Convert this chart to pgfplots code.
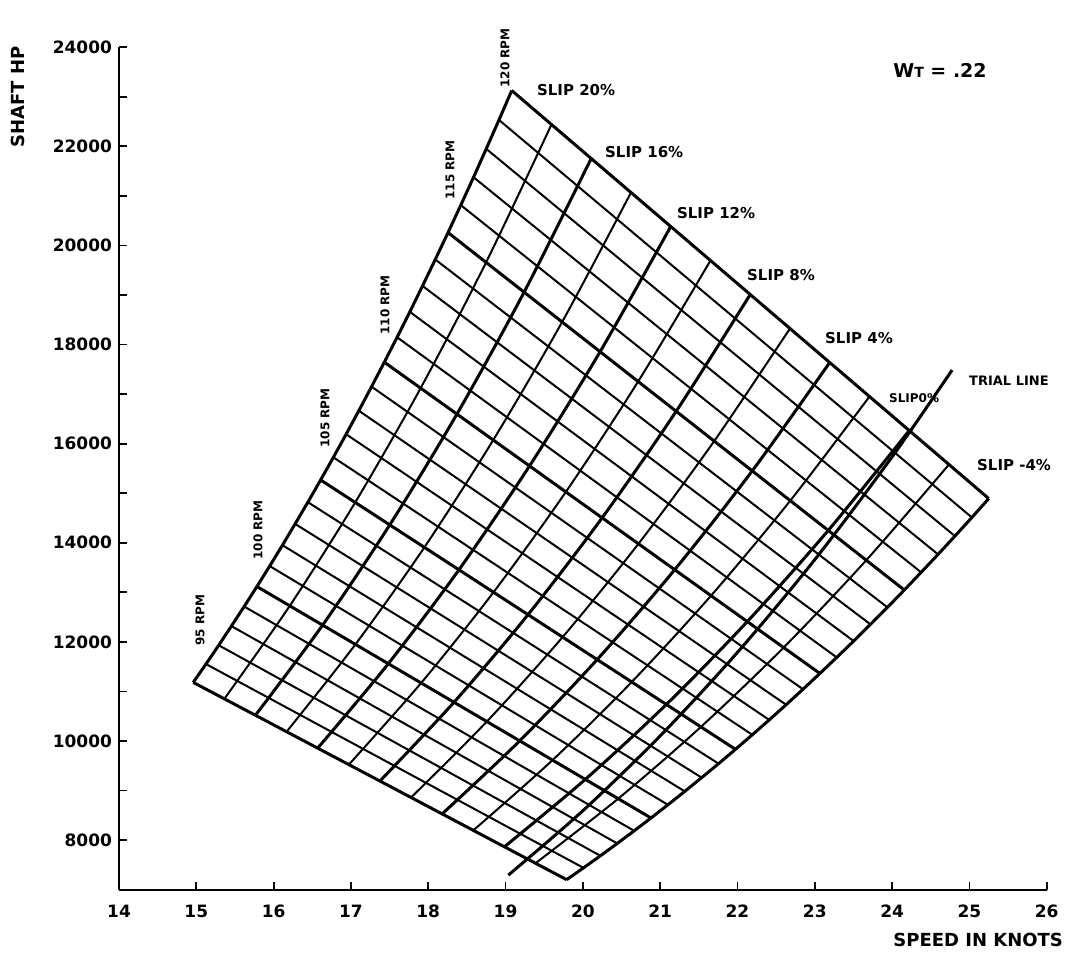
\documentclass[border=0pt]{standalone}
\usepackage{fontspec}
\setmainfont{DejaVu Sans}
\usepackage{pgfplots}
\pgfplotsset{compat=1.18}

% Propeller chart: shaft horsepower against speed, with lines of constant
% revolutions (95--120 RPM) and constant apparent slip (20% to -4%).
\pgfplotsset{
  heavy/.style={black, line width=1.5pt, no marks},
  light/.style={black, line width=1.0pt, no marks},
}

\begin{document}
\begin{tikzpicture}
\begin{axis}[
  scale only axis, width=463.8pt, height=421.2pt,
  xmin=14, xmax=26, ymin=7000, ymax=24000,
  axis x line=bottom, axis y line=left,
  axis line style={-, line width=1pt},
  xtick={14,...,26},
  ytick={8000,10000,...,24000},
  minor ytick={9000,11000,...,23000},
  scaled y ticks=false,
  tick align=inside,
  major tick length=4pt, minor tick length=4pt,
  tick style={black, line width=0.9pt},
  ticklabel style={font=\bfseries\fontsize{8.5}{10}\selectfont},
  xticklabel style={yshift=-4pt},
  yticklabel style={/pgf/number format/fixed},
  /pgf/number format/assume math mode=true,
  /pgf/number format/1000 sep={},
  clip=false,
]

% ---- lines of constant revolutions (slip 20% end to slip -4% end)
\addplot[heavy] coordinates {(14.960,11183) (19.790,7202)};   % 95
\addplot[light] coordinates {(15.125,11553) (20.008,7440)};
\addplot[light] coordinates {(15.290,11932) (20.227,7684)};
\addplot[light] coordinates {(15.454,12319) (20.445,7933)};
\addplot[light] coordinates {(15.619,12714) (20.664,8188)};
\addplot[heavy] coordinates {(15.784,13117) (20.882,8447)};   % 100
\addplot[light] coordinates {(15.949,13530) (21.100,8713)};
\addplot[light] coordinates {(16.114,13951) (21.319,8984)};
\addplot[light] coordinates {(16.278,14381) (21.537,9261)};
\addplot[light] coordinates {(16.443,14819) (21.756,9543)};
\addplot[heavy] coordinates {(16.608,15267) (21.974,9832)};   % 105
\addplot[light] coordinates {(16.773,15724) (22.192,10126)};
\addplot[light] coordinates {(16.938,16190) (22.411,10426)};
\addplot[light] coordinates {(17.102,16665) (22.629,10732)};
\addplot[light] coordinates {(17.267,17150) (22.848,11045)};
\addplot[heavy] coordinates {(17.432,17644) (23.066,11363)};  % 110
\addplot[light] coordinates {(17.597,18147) (23.284,11687)};
\addplot[light] coordinates {(17.762,18660) (23.503,12017)};
\addplot[light] coordinates {(17.926,19183) (23.721,12354)};
\addplot[light] coordinates {(18.091,19716) (23.940,12697)};
\addplot[heavy] coordinates {(18.256,20259) (24.158,13047)};  % 115
\addplot[light] coordinates {(18.421,20813) (24.376,13404)};
\addplot[light] coordinates {(18.586,21376) (24.595,13766)};
\addplot[light] coordinates {(18.750,21949) (24.813,14135)};
\addplot[light] coordinates {(18.915,22532) (25.032,14511)};
\addplot[heavy] coordinates {(19.080,23126) (25.250,14893)};  % 120

% ---- lines of constant slip
% slip 20%
\addplot[heavy] coordinates {
 (14.960,11183) (15.125,11553) (15.290,11932) (15.454,12319) (15.619,12714)
 (15.784,13117) (15.949,13530) (16.114,13951) (16.278,14381) (16.443,14819)
 (16.608,15267) (16.773,15724) (16.938,16190) (17.102,16665) (17.267,17150)
 (17.432,17644) (17.597,18147) (17.762,18660) (17.926,19183) (18.091,19716)
 (18.256,20259) (18.421,20813) (18.586,21376) (18.750,21949) (18.915,22532)
 (19.080,23126)};
% slip 18%
\addplot[light, smooth] coordinates {(15.363,10851) (16.209,12728) (17.055,14814) (17.902,17121) (18.748,19658) (19.594,22440)};
% slip 16%
\addplot[heavy, smooth] coordinates {(15.765,10520) (16.634,12339) (17.502,14361) (18.371,16597) (19.240,19057) (20.108,21754)};
% slip 14%
\addplot[light, smooth] coordinates {(16.168,10188) (17.058,11950) (17.950,13908) (18.841,16074) (19.732,18456) (20.623,21068)};
% slip 12%
\addplot[heavy, smooth] coordinates {(16.570,9856) (17.483,11560) (18.397,13455) (19.310,15550) (20.223,17855) (21.137,20382)};
% slip 10%
\addplot[light, smooth] coordinates {(16.973,9524) (17.908,11171) (18.844,13002) (19.780,15027) (20.715,17254) (21.651,19696)};
% slip 8%
\addplot[heavy, smooth] coordinates {(17.375,9192) (18.333,10782) (19.291,12550) (20.249,14503) (21.207,16653) (22.165,19010)};
% slip 6%
\addplot[light, smooth] coordinates {(17.778,8861) (18.758,10393) (19.738,12097) (20.719,13980) (21.699,16052) (22.679,18324)};
% slip 4%
\addplot[heavy, smooth] coordinates {(18.180,8529) (19.183,10004) (20.185,11644) (21.188,13457) (22.191,15451) (23.193,17637)};
% slip 2%
\addplot[light, smooth] coordinates {(18.583,8197) (19.608,9615) (20.632,11191) (21.658,12933) (22.683,14850) (23.708,16951)};
% slip 0%
\addplot[heavy, smooth] coordinates {(18.985,7865) (20.032,9226) (21.080,10738) (22.127,12410) (23.174,14249) (24.222,16265)};
% slip -2%
\addplot[light, smooth] coordinates {(19.388,7534) (20.457,8837) (21.527,10285) (22.597,11886) (23.666,13648) (24.736,15579)};
% slip -4%
\addplot[heavy] coordinates {
 (19.790,7202) (20.008,7440) (20.227,7684) (20.445,7933) (20.664,8188)
 (20.882,8447) (21.100,8713) (21.319,8984) (21.537,9261) (21.756,9543)
 (21.974,9832) (22.192,10126) (22.411,10426) (22.629,10732) (22.848,11045)
 (23.066,11363) (23.284,11687) (23.503,12017) (23.721,12354) (23.940,12697)
 (24.158,13047) (24.376,13404) (24.595,13766) (24.813,14135) (25.032,14511)
 (25.250,14893)};

% ---- trial line
\addplot[heavy, smooth] coordinates {(19.036,7294) (20,8593) (21,10103) (22,11789) (23,13660) (24,15734) (24.776,17485)};

% ---- labels
\begin{scope}[font=\bfseries\fontsize{7.5}{8}\selectfont]
\node[anchor=west] at (axis cs:19.317,23135) {SLIP 20\%};
\node[anchor=west] at (axis cs:20.197,21884) {SLIP 16\%};
\node[anchor=west] at (axis cs:21.128,20653) {SLIP 12\%};
\node[anchor=west] at (axis cs:22.034,19402) {SLIP 8\%};
\node[anchor=west] at (axis cs:23.043,18130) {SLIP 4\%};
\node[anchor=west, font=\bfseries\fontsize{6}{6}\selectfont] at (axis cs:23.870,16920) {SLIP0\%};
\node[anchor=west] at (axis cs:25.009,15568) {SLIP -4\%};
\node[anchor=west, font=\bfseries\fontsize{6.5}{7}\selectfont] at (axis cs:24.906,17263) {TRIAL LINE};
\end{scope}
\begin{scope}[font=\bfseries\fontsize{6}{6}\selectfont]
\node[rotate=90] at (axis cs:15.048,12440) {95 RPM};
\node[rotate=90] at (axis cs:15.798,14256) {100 RPM};
\node[rotate=90] at (axis cs:16.665,16516) {105 RPM};
\node[rotate=90] at (axis cs:17.441,18796) {110 RPM};
\node[rotate=90] at (axis cs:18.282,21521) {115 RPM};
\node[rotate=90] at (axis cs:18.994,23781) {120 RPM};
\end{scope}
\node[font=\bfseries\fontsize{9.5}{10}\selectfont] at (axis cs:24.62,23539) {W{\fontsize{7}{7}\selectfont T} = .22};
\node[rotate=90, font=\bfseries\fontsize{9}{10}\selectfont] at (axis cs:12.693,22994) {SHAFT HP};
\node[font=\bfseries\fontsize{9}{10}\selectfont] at (axis cs:25.113,5982) {SPEED IN KNOTS};
\end{axis}
\path ([shift={(-59.5pt,-30.7pt)}]current axis.south west)
  rectangle ([shift={(14.15pt,23.6pt)}]current axis.north east);
\end{tikzpicture}
\end{document}
